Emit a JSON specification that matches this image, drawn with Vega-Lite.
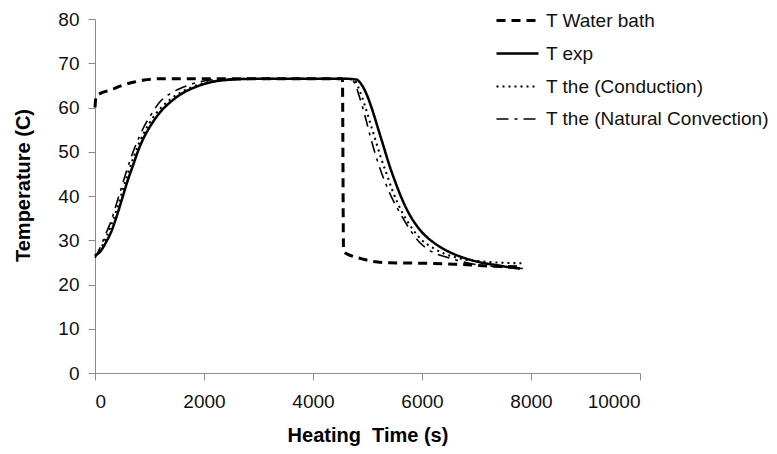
{
  "$schema": "https://vega.github.io/schema/vega-lite/v6.json",
  "width": 545,
  "height": 354,
  "autosize": {"type": "none"},
  "padding": {"left": 95, "top": 19, "right": 137, "bottom": 81},
  "background": "white",
  "config": {
    "view": {"stroke": null},
    "font": "Liberation Sans",
    "axis": {
      "grid": false,
      "domainColor": "#8c8c8c",
      "tickColor": "#8c8c8c",
      "tickSize": 7,
      "labelFont": "Liberation Sans",
      "labelFontSize": 19,
      "labelColor": "#111111",
      "titleFont": "Liberation Sans",
      "titleFontSize": 20,
      "titleFontWeight": "bold",
      "titleColor": "#000000"
    }
  },
  "data": {
    "values": [
      {"series": "T Water bath", "t": 0, "T": 60},
      {"series": "T Water bath", "t": 20, "T": 62.5},
      {"series": "T Water bath", "t": 100, "T": 63.2},
      {"series": "T Water bath", "t": 300, "T": 64},
      {"series": "T Water bath", "t": 500, "T": 65},
      {"series": "T Water bath", "t": 700, "T": 65.7},
      {"series": "T Water bath", "t": 900, "T": 66.2},
      {"series": "T Water bath", "t": 1200, "T": 66.5},
      {"series": "T Water bath", "t": 2500, "T": 66.5},
      {"series": "T Water bath", "t": 4540, "T": 66.5},
      {"series": "T Water bath", "t": 4560, "T": 27.5},
      {"series": "T Water bath", "t": 4700, "T": 26.5},
      {"series": "T Water bath", "t": 4900, "T": 25.8},
      {"series": "T Water bath", "t": 5100, "T": 25.2},
      {"series": "T Water bath", "t": 5400, "T": 24.9},
      {"series": "T Water bath", "t": 6000, "T": 24.8},
      {"series": "T Water bath", "t": 6600, "T": 24.6},
      {"series": "T Water bath", "t": 7200, "T": 24.2},
      {"series": "T Water bath", "t": 7850, "T": 24},

      {"series": "T exp", "t": 0, "T": 26.5},
      {"series": "T exp", "t": 100, "T": 27.5},
      {"series": "T exp", "t": 200, "T": 29.5},
      {"series": "T exp", "t": 300, "T": 32},
      {"series": "T exp", "t": 400, "T": 35.5},
      {"series": "T exp", "t": 500, "T": 39.5},
      {"series": "T exp", "t": 600, "T": 43.5},
      {"series": "T exp", "t": 700, "T": 47},
      {"series": "T exp", "t": 800, "T": 50.5},
      {"series": "T exp", "t": 900, "T": 53.3},
      {"series": "T exp", "t": 1000, "T": 55.5},
      {"series": "T exp", "t": 1200, "T": 59},
      {"series": "T exp", "t": 1400, "T": 61.4},
      {"series": "T exp", "t": 1600, "T": 63.2},
      {"series": "T exp", "t": 1800, "T": 64.4},
      {"series": "T exp", "t": 2000, "T": 65.3},
      {"series": "T exp", "t": 2200, "T": 65.9},
      {"series": "T exp", "t": 2500, "T": 66.3},
      {"series": "T exp", "t": 3000, "T": 66.5},
      {"series": "T exp", "t": 4000, "T": 66.5},
      {"series": "T exp", "t": 4600, "T": 66.5},
      {"series": "T exp", "t": 4800, "T": 66.3},
      {"series": "T exp", "t": 4900, "T": 65},
      {"series": "T exp", "t": 5000, "T": 62.5},
      {"series": "T exp", "t": 5100, "T": 59},
      {"series": "T exp", "t": 5200, "T": 55},
      {"series": "T exp", "t": 5300, "T": 51},
      {"series": "T exp", "t": 5400, "T": 47},
      {"series": "T exp", "t": 5500, "T": 43.5},
      {"series": "T exp", "t": 5600, "T": 40.3},
      {"series": "T exp", "t": 5700, "T": 37.5},
      {"series": "T exp", "t": 5800, "T": 35.2},
      {"series": "T exp", "t": 6000, "T": 31.8},
      {"series": "T exp", "t": 6200, "T": 29.6},
      {"series": "T exp", "t": 6400, "T": 28},
      {"series": "T exp", "t": 6600, "T": 26.8},
      {"series": "T exp", "t": 6800, "T": 25.9},
      {"series": "T exp", "t": 7000, "T": 25.2},
      {"series": "T exp", "t": 7200, "T": 24.7},
      {"series": "T exp", "t": 7400, "T": 24.3},
      {"series": "T exp", "t": 7600, "T": 23.9},
      {"series": "T exp", "t": 7800, "T": 23.6},

      {"series": "T the (Conduction)", "t": 0, "T": 26.5},
      {"series": "T the (Conduction)", "t": 100, "T": 28},
      {"series": "T the (Conduction)", "t": 200, "T": 30.5},
      {"series": "T the (Conduction)", "t": 300, "T": 33.5},
      {"series": "T the (Conduction)", "t": 400, "T": 37},
      {"series": "T the (Conduction)", "t": 500, "T": 41},
      {"series": "T the (Conduction)", "t": 600, "T": 45},
      {"series": "T the (Conduction)", "t": 700, "T": 48.5},
      {"series": "T the (Conduction)", "t": 800, "T": 51.7},
      {"series": "T the (Conduction)", "t": 900, "T": 54.3},
      {"series": "T the (Conduction)", "t": 1000, "T": 56.5},
      {"series": "T the (Conduction)", "t": 1200, "T": 59.8},
      {"series": "T the (Conduction)", "t": 1400, "T": 62},
      {"series": "T the (Conduction)", "t": 1600, "T": 63.6},
      {"series": "T the (Conduction)", "t": 1800, "T": 64.7},
      {"series": "T the (Conduction)", "t": 2000, "T": 65.5},
      {"series": "T the (Conduction)", "t": 2200, "T": 66},
      {"series": "T the (Conduction)", "t": 2500, "T": 66.4},
      {"series": "T the (Conduction)", "t": 3000, "T": 66.5},
      {"series": "T the (Conduction)", "t": 4600, "T": 66.5},
      {"series": "T the (Conduction)", "t": 4750, "T": 66.3},
      {"series": "T the (Conduction)", "t": 4850, "T": 64},
      {"series": "T the (Conduction)", "t": 4950, "T": 60.5},
      {"series": "T the (Conduction)", "t": 5050, "T": 56.5},
      {"series": "T the (Conduction)", "t": 5150, "T": 52.5},
      {"series": "T the (Conduction)", "t": 5250, "T": 48.5},
      {"series": "T the (Conduction)", "t": 5350, "T": 45},
      {"series": "T the (Conduction)", "t": 5450, "T": 41.5},
      {"series": "T the (Conduction)", "t": 5550, "T": 38.5},
      {"series": "T the (Conduction)", "t": 5650, "T": 36},
      {"series": "T the (Conduction)", "t": 5800, "T": 33},
      {"series": "T the (Conduction)", "t": 6000, "T": 30},
      {"series": "T the (Conduction)", "t": 6200, "T": 28.3},
      {"series": "T the (Conduction)", "t": 6400, "T": 27},
      {"series": "T the (Conduction)", "t": 6600, "T": 26.2},
      {"series": "T the (Conduction)", "t": 6800, "T": 25.6},
      {"series": "T the (Conduction)", "t": 7000, "T": 25.3},
      {"series": "T the (Conduction)", "t": 7200, "T": 25.1},
      {"series": "T the (Conduction)", "t": 7500, "T": 24.9},
      {"series": "T the (Conduction)", "t": 7850, "T": 24.8},

      {"series": "T the (Natural Convection)", "t": 0, "T": 26},
      {"series": "T the (Natural Convection)", "t": 100, "T": 28.5},
      {"series": "T the (Natural Convection)", "t": 200, "T": 31.5},
      {"series": "T the (Natural Convection)", "t": 300, "T": 34.5},
      {"series": "T the (Natural Convection)", "t": 400, "T": 38.5},
      {"series": "T the (Natural Convection)", "t": 500, "T": 42.5},
      {"series": "T the (Natural Convection)", "t": 600, "T": 46.5},
      {"series": "T the (Natural Convection)", "t": 700, "T": 50},
      {"series": "T the (Natural Convection)", "t": 800, "T": 53},
      {"series": "T the (Natural Convection)", "t": 900, "T": 55.7},
      {"series": "T the (Natural Convection)", "t": 1000, "T": 57.8},
      {"series": "T the (Natural Convection)", "t": 1200, "T": 61.4},
      {"series": "T the (Natural Convection)", "t": 1400, "T": 63.3},
      {"series": "T the (Natural Convection)", "t": 1600, "T": 64.5},
      {"series": "T the (Natural Convection)", "t": 1800, "T": 65.4},
      {"series": "T the (Natural Convection)", "t": 2000, "T": 66},
      {"series": "T the (Natural Convection)", "t": 2300, "T": 66.4},
      {"series": "T the (Natural Convection)", "t": 3000, "T": 66.5},
      {"series": "T the (Natural Convection)", "t": 4600, "T": 66.5},
      {"series": "T the (Natural Convection)", "t": 4750, "T": 65.8},
      {"series": "T the (Natural Convection)", "t": 4850, "T": 62.5},
      {"series": "T the (Natural Convection)", "t": 4950, "T": 58.3},
      {"series": "T the (Natural Convection)", "t": 5050, "T": 53.5},
      {"series": "T the (Natural Convection)", "t": 5150, "T": 49.2},
      {"series": "T the (Natural Convection)", "t": 5250, "T": 45.5},
      {"series": "T the (Natural Convection)", "t": 5350, "T": 42.3},
      {"series": "T the (Natural Convection)", "t": 5450, "T": 39.5},
      {"series": "T the (Natural Convection)", "t": 5550, "T": 37.2},
      {"series": "T the (Natural Convection)", "t": 5650, "T": 35},
      {"series": "T the (Natural Convection)", "t": 5800, "T": 32},
      {"series": "T the (Natural Convection)", "t": 5950, "T": 29.6},
      {"series": "T the (Natural Convection)", "t": 6100, "T": 28},
      {"series": "T the (Natural Convection)", "t": 6250, "T": 27},
      {"series": "T the (Natural Convection)", "t": 6500, "T": 26},
      {"series": "T the (Natural Convection)", "t": 6750, "T": 25.1},
      {"series": "T the (Natural Convection)", "t": 7000, "T": 24.5},
      {"series": "T the (Natural Convection)", "t": 7350, "T": 24},
      {"series": "T the (Natural Convection)", "t": 7850, "T": 23.6}
    ]
  },
  "mark": {"type": "line", "color": "black", "interpolate": "monotone"},
  "encoding": {
    "x": {
      "field": "t", "type": "quantitative",
      "scale": {"domain": [0, 10000], "nice": false},
      "axis": {"values": [0, 2000, 4000, 6000, 8000, 10000], "format": "d", "title": "Heating\u00a0 Time (s)", "labelPadding": 12, "titlePadding": 14}
    },
    "y": {
      "field": "T", "type": "quantitative",
      "scale": {"domain": [0, 80], "nice": false},
      "axis": {"values": [0, 10, 20, 30, 40, 50, 60, 70, 80], "format": "d", "title": "Temperature (C)", "labelPadding": 9, "titlePadding": 24, "titleY": 166}
    },
    "strokeDash": {
      "field": "series", "type": "nominal",
      "scale": {
        "domain": ["T Water bath", "T exp", "T the (Conduction)", "T the (Natural Convection)"],
        "range": [[9, 6], [1, 0], [2, 4], [12, 6, 3, 6]]
      },
      "legend": {
        "title": null,
        "orient": "none",
        "legendX": 400,
        "legendY": -21,
        "padding": 0,
        "symbolType": "stroke",
        "symbolSize": 1764,
        "symbolStrokeColor": "black",
        "symbolStrokeWidth": 2.5,
        "rowPadding": -6,
        "labelOffset": 6,
        "labelFont": "Liberation Sans",
        "labelFontSize": 19,
        "labelColor": "#111111",
        "labelLimit": 0
      }
    },
    "strokeWidth": {
      "field": "series", "type": "nominal",
      "scale": {
        "domain": ["T Water bath", "T exp", "T the (Conduction)", "T the (Natural Convection)"],
        "range": [3, 1.6, 2.4, 2.6]
      },
      "legend": null
    }
  }
}
